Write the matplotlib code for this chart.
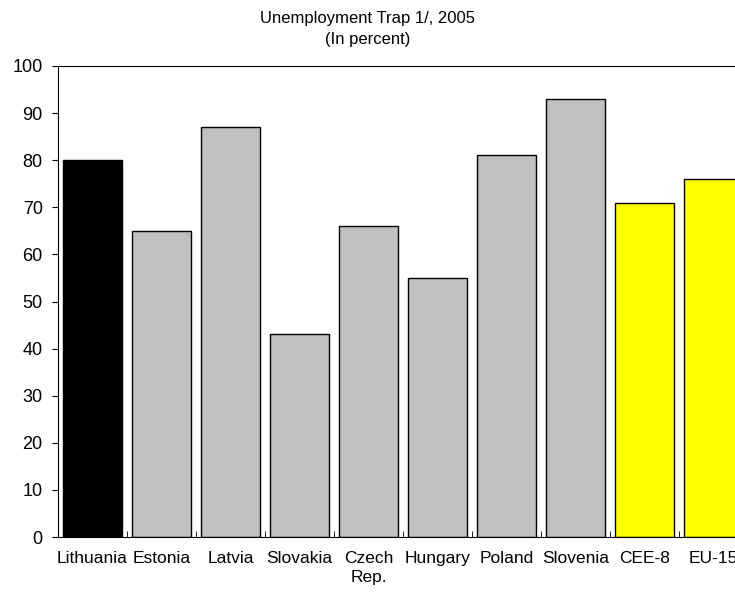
import matplotlib
matplotlib.use("Agg")
from matplotlib import pyplot as plt
import numpy as np

countries = ["Lithuania", "Estonia", "Latvia", "Slovakia", "Czech\nRep.", "Hungary",
             "Poland", "Slovenia", "CEE-8", "EU-15"]
values = [80, 65, 87, 43, 66, 55, 81, 93, 71, 76]
colors = ["black"] + ["#c0c0c0"] * 7 + ["yellow"] * 2

plt.rcParams['font.family'] = ['Liberation Sans', 'DejaVu Sans']

fig = plt.figure(figsize=(7.35, 6), dpi=100)
ax = fig.add_axes([58/735, 63/600, 690/735, 471/600])

x = np.arange(len(countries))
ax.bar(x, values, width=0.86, color=colors, edgecolor="black", linewidth=1)

ax.set_xlim(-0.5, len(countries) - 0.5)
ax.set_ylim(0, 100)
ax.set_yticks(range(0, 101, 10))
ax.tick_params(axis='y', labelsize=13, direction='out', length=4, pad=7)

ax.set_xticks(x)
ax.set_xticklabels(countries, fontsize=12.5, linespacing=1.35)
ax.tick_params(axis='x', length=0, pad=10)
ax.set_xticks(np.arange(0.5, len(countries) - 0.5, 1), minor=True)
ax.tick_params(axis='x', which='minor', direction='in', length=4)

fig.text(0.5, 0.951, "Unemployment Trap 1/, 2005\n(In percent)", ha='center', va='center',
         fontsize=12, linespacing=1.5)

plt.savefig("out.png", dpi=100)
